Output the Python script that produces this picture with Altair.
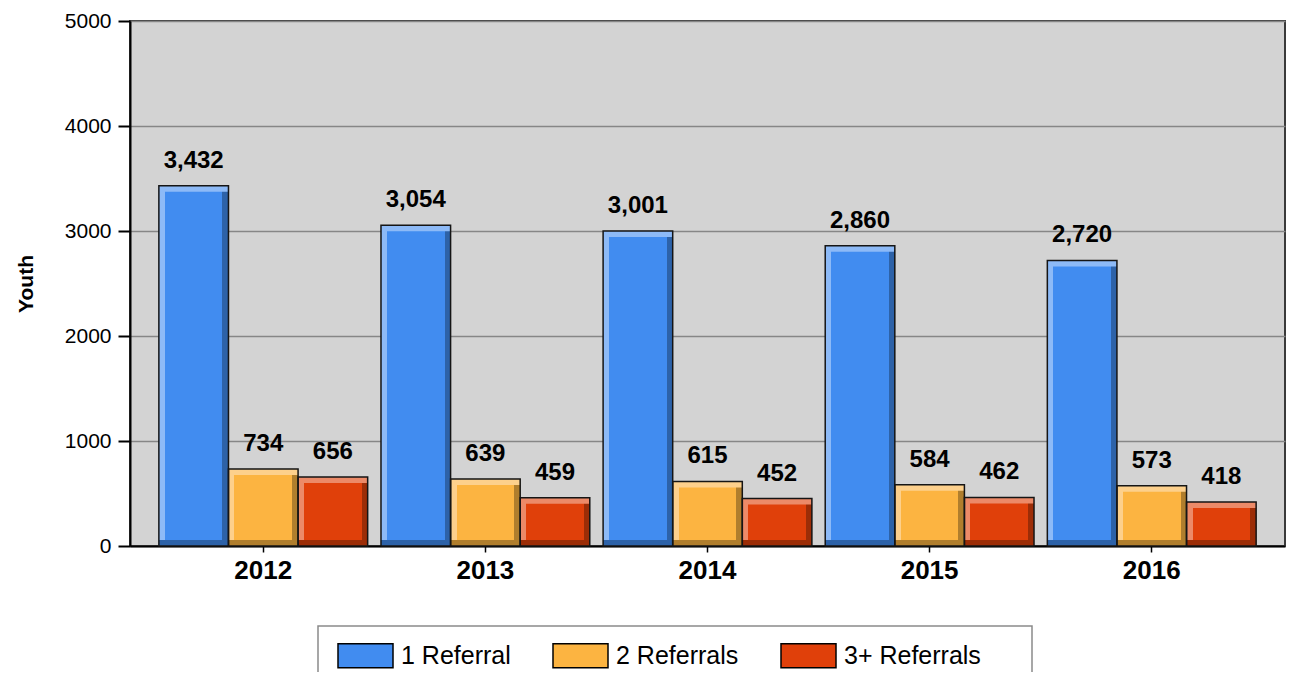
import altair as alt
import pandas as pd

years = ["2012", "2013", "2014", "2015", "2016"]
series = ["1 Referral", "2 Referrals", "3+ Referrals"]
one_referral = [3432, 3054, 3001, 2860, 2720]
two_referrals = [734, 639, 615, 584, 573]
three_plus = [656, 459, 452, 462, 418]
main_colors = ["#418CF0", "#FCB441", "#E0400A"]
light_colors = ["#8DBAF7", "#FDD08C", "#EC8A68"]
dark_colors = ["#2D62A8", "#B07E2D", "#9C2D07"]
y_ticks = [0, 1000, 2000, 3000, 4000, 5000]

rows = []
for s_i, (name, vals) in enumerate(zip(series, [one_referral, two_referrals, three_plus])):
    for yr, v in zip(years, vals):
        rows.append({"year": yr, "series": name, "value": v,
                     "light": light_colors[s_i], "dark": dark_colors[s_i]})
df = pd.DataFrame(rows)

FONT = "Liberation Sans"
BEVEL = 6
W, H = 1155, 525

x_axis = alt.Axis(title=None, labelAngle=0, labelFont=FONT, labelFontSize=26,
                  labelFontWeight="bold", labelColor="black", labelPadding=5,
                  tickSize=6, tickColor="black", tickWidth=1.5,
                  domainColor="black", domainWidth=2, grid=False)
y_axis = alt.Axis(title="Youth", values=y_ticks, format="d", labelFont=FONT,
                  labelFontSize=21, labelColor="black", labelPadding=7,
                  tickSize=12, tickColor="black", tickWidth=2,
                  domainColor="black", domainWidth=2,
                  grid=True, gridColor="#868686", gridWidth=1.5,
                  titleFont=FONT, titleFontSize=21, titleFontWeight="bold",
                  titleColor="black", titleX=-98, titleY=H / 2,
                  titleBaseline="alphabetic", titleAngle=270)

x_scale = alt.Scale(paddingInner=0.06, paddingOuter=0.13)
y_scale = alt.Scale(domain=[0, 5000], nice=False)
xo_scale = alt.Scale(domain=series, paddingInner=0, paddingOuter=0)

X = alt.X("year:N", sort=years, scale=x_scale, axis=x_axis)
XO = alt.XOffset("series:N", sort=series, scale=xo_scale)
Y = alt.Y("value:Q", stack=None, scale=y_scale, axis=y_axis)

base = alt.Chart(df)

legend_path = "M-1,-0.436L1,-0.436L1,0.436L-1,0.436Z"

main = base.mark_bar(stroke=None).encode(
    x=X, xOffset=XO, y=Y,
    color=alt.Color("series:N", sort=series,
                    scale=alt.Scale(domain=series, range=main_colors),
                    legend=alt.Legend(orient="none", legendX=207, legendY=606,
                                      direction="horizontal", columns=3,
                                      title=None, symbolType=legend_path,
                                      symbolSize=3025, symbolStrokeColor="black",
                                      symbolStrokeWidth=1.5, symbolOpacity=1,
                                      labelFont=FONT, labelFontSize=25,
                                      labelColor="black", labelOffset=7,
                                      columnPadding=39, padding=0)),
)

g = BEVEL / 69.6
grad_layers = []
for s_i, name in enumerate(series):
    grad = alt.LinearGradient(
        gradient="linear", x1=0, x2=1, y1=0, y2=0,
        stops=[alt.GradientStop(color=light_colors[s_i], offset=0),
               alt.GradientStop(color=light_colors[s_i], offset=g),
               alt.GradientStop(color=main_colors[s_i], offset=g),
               alt.GradientStop(color=main_colors[s_i], offset=1 - g),
               alt.GradientStop(color=dark_colors[s_i], offset=1 - g),
               alt.GradientStop(color=dark_colors[s_i], offset=1)])
    grad_layers.append(
        base.transform_filter(alt.datum.series == name)
        .mark_bar(fill=grad, stroke=None)
        .encode(x=X, xOffset=XO, y=Y)
    )

top_strip = base.mark_bar(y2Offset=BEVEL, stroke=None).encode(
    x=X, xOffset=XO, y=Y, y2=alt.Y2("value:Q"),
    fill=alt.Fill("light:N", scale=None),
)
bottom_strip = base.mark_bar(yOffset=-BEVEL, stroke=None).encode(
    x=X, xOffset=XO,
    y=alt.Y(datum=0, scale=y_scale, axis=y_axis),
    y2=alt.Y2(datum=0),
    fill=alt.Fill("dark:N", scale=None),
)
outline = base.mark_bar(fillOpacity=0, stroke="#151515", strokeWidth=1.5).encode(
    x=X, xOffset=XO, y=Y,
)
labels = base.mark_text(font=FONT, fontSize=24, fontWeight="bold", color="black",
                        baseline="alphabetic", dy=-18).encode(
    x=X, xOffset=XO, y=Y, text=alt.Text("value:Q", format=","),
)

frame = alt.Chart(pd.DataFrame({"k": [0]})).mark_rect(
    fillOpacity=0, stroke="#8a8a8a", strokeWidth=1.5
).encode(x=alt.value(188), x2=alt.value(902), y=alt.value(605), y2=alt.value(720))

chart = alt.layer(main, *grad_layers, top_strip, bottom_strip, outline, labels, frame).properties(
    width=W, height=H,
    autosize=alt.AutoSizeParams(type="none"),
    padding={"left": 122, "top": 13, "right": 2, "bottom": 126},
    background="white",
).configure_view(fill="#d3d3d3", stroke="#3a3a3a", strokeWidth=2)

chart.save("out.html", embed_options={"renderer": "svg", "actions": False})
